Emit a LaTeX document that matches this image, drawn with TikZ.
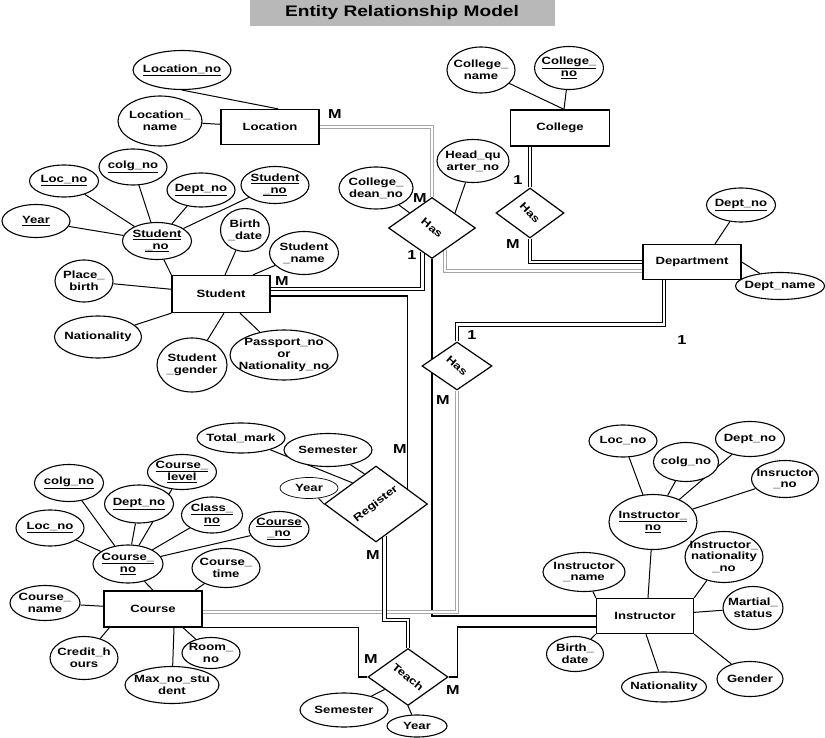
\documentclass[tikz,border=0pt]{standalone}
\usepackage{fontspec}
\setmainfont{Liberation Sans}[FakeStretch=1.25]
\usepackage{graphicx}
\usepackage{tikz}
\usetikzlibrary{positioning}
\usetikzlibrary{calc}
\usetikzlibrary{backgrounds}
\usetikzlibrary{shapes.geometric}

\tikzset{
  every node/.style={font=\fontsize{10.5}{11.7}\selectfont\bfseries},
  sz/.style 2 args={minimum width=#1pt, minimum height=#2pt},
  attr/.style={ellipse, draw, line width=1.1pt, fill=white, inner xsep=-40pt, inner ysep=-40pt, align=center},
  ent/.style={rectangle, draw, line width=1.3pt, fill=white, inner sep=0pt},
  rel/.style={diamond, draw, line width=1.2pt, fill=white, inner xsep=-40pt, inner ysep=-40pt},
  card/.style={font=\fontsize{13}{13}\selectfont\bfseries, inner sep=0pt},
  link/.style={line width=1pt},
  rline/.style={line width=1.2pt},
  dbl/.style={draw=black, line width=0.9pt, double=white, double distance=2.5pt},
  dblg/.style={draw=gray!70, line width=0.9pt, double=white, double distance=2.5pt},
}

\begin{document}
\begin{tikzpicture}[x=1pt, y=-1pt]
    \useasboundingbox (0,0) rectangle (825,738);
    % title
    \node[fill=black!28, sz={305}{26}, font=\fontsize{15.3}{16}\selectfont\bfseries] (ttl) at (402,13) {Entity Relationship Model};
    % entities
    \node[ent, sz={98}{35}] (loc) at (270,127) {Location};
    \node[ent, sz={99}{36}] (col) at (560,128) {College};
    \node[ent, sz={98}{35}] (dept) at (692,262) {Department};
    \node[ent, sz={98}{37}] (stu) at (221,294) {Student};
    \node[ent, sz={98}{36}] (crs) at (153,609) {Course};
    \node[ent, sz={97}{35}] (ins) at (645,616) {Instructor};
    % relationships
    \node[rel, sz={87}{61}] (has1) at (432,228) {\rotatebox{-40}{Has}};
    \node[rel, sz={68}{50}] (has2) at (530,213) {\rotatebox{-47}{Has}};
    \node[rel, sz={70}{48}] (has3) at (457,366) {\rotatebox{-42}{Has}};
    \node[rel, sz={103}{76}] (reg) at (376,504) {\rotatebox{38}{Register}};
    \node[rel, sz={80}{57}] (teach) at (408,677) {\rotatebox{-40}{Teach}};
    % location
    \node[attr, sz={98}{39}] (locno) at (182,70) {\underline{Location\_no}};
    \node[attr, sz={84}{50}] (locname) at (160,121) {Location\_\\name};
    % student
    \node[attr, sz={69}{32}] (locno1) at (64,181) {\underline{Loc\_no}};
    \node[attr, sz={68}{36}] (colgno1) at (133,167) {\underline{colg\_no}};
    \node[attr, sz={68}{34}] (deptno1) at (201,190) {\underline{Dept\_no}};
    \node[attr, sz={68}{37}] (stuno2) at (275,185) {\underline{Student}\\\underline{\_no}};
    \node[attr, sz={68}{33}] (year1) at (36,221) {\underline{Year}};
    \node[attr, sz={69}{37}] (stuno) at (157,241) {\underline{Student}\\\underline{\_no}};
    \node[attr, sz={49}{43}] (birth1) at (245,230) {Birth\\\_date};
    \node[attr, sz={69}{43}] (stuname) at (304,253) {Student\\\_name};
    \node[attr, sz={58}{42}] (place) at (84,281) {Place\_\\birth};
    \node[attr, sz={87}{42}] (nation1) at (98,337) {Nationality};
    \node[attr, sz={70}{54}] (gender1) at (192,365) {Student\\\_gender};
    \node[attr, sz={108}{50}] (passport) at (284,355) {Passport\_no\\or\\Nationality\_no};
    % college and department
    \node[attr, sz={68}{46}] (colname) at (481,70) {College\_\\name};
    \node[attr, sz={69}{43}] (colno) at (569,68) {\underline{College\_}\\\underline{no}};
    \node[attr, sz={72}{43}] (hq) at (473,161) {Head\_qu\\arter\_no};
    \node[attr, sz={74}{42}] (cdean) at (376,188) {College\_\\dean\_no};
    \node[attr, sz={69}{34}] (deptno) at (741,205) {\underline{Dept\_no}};
    \node[attr, sz={89}{27}] (dname) at (780,286) {Dept\_name};
    % course
    \node[attr, sz={69}{37}] (colgno2) at (69,483) {\underline{colg\_no}};
    \node[attr, sz={68}{36}] (locno2) at (50,528) {\underline{Loc\_no}};
    \node[attr, sz={69}{38}] (deptno2) at (139,504) {\underline{Dept\_no}};
    \node[attr, sz={69}{35}] (clevel) at (182,472) {\underline{Course\_}\\\underline{level}};
    \node[attr, sz={61}{36}] (classno) at (212,515) {\underline{Class\_}\\\underline{no}};
    \node[attr, sz={60}{35}] (crsno2) at (279,529) {\underline{Course}\\\underline{\_no}};
    \node[attr, sz={70}{38}] (crsno) at (128,564) {\underline{Course\_}\\\underline{no}};
    \node[attr, sz={68}{39}] (ctime) at (226,568) {Course\_\\time};
    \node[attr, sz={70}{35}] (cname) at (45,603) {Course\_\\name};
    \node[attr, sz={68}{43}] (credit) at (84,658) {Credit\_h\\ours};
    \node[attr, sz={94}{37}] (maxno) at (172,685) {Max\_no\_stu\\dent};
    \node[attr, sz={58}{31}] (room) at (211,653) {Room\_\\no};
    % register and teach
    \node[attr, sz={88}{30}] (total) at (241,438) {Total\_mark};
    \node[attr, sz={88}{33}] (sem1) at (328,450) {Semester};
    \node[attr, sz={58}{21}, line width=0.7pt] (year2) at (309,488) {Year};
    \node[attr, sz={88}{34}] (sem2) at (344,710) {Semester};
    \node[attr, sz={60}{22}] (year3) at (417,726) {Year};
    % instructor
    \node[attr, sz={68}{32}] (locno3) at (623,441) {Loc\_no};
    \node[attr, sz={65}{39}] (colgno3) at (686,462) {colg\_no};
    \node[attr, sz={69}{35}] (deptno3) at (750,439) {Dept\_no};
    \node[attr, sz={67}{37}] (insno2) at (785,479) {Insructor\\\_no};
    \node[attr, sz={88}{55}] (insno) at (653,522) {\underline{Instructor\_}\\\underline{no}};
    \node[attr, sz={78}{51}] (inat) at (724,557) {Instructor\_\\nationality\\\_no};
    \node[attr, sz={82}{39}] (iname) at (584,572) {Instructor\\\_name};
    \node[attr, sz={60}{43}] (mstat) at (753,608) {Martial\_\\status};
    \node[attr, sz={57}{35}] (ibirth) at (575,654) {Birth\_\\date};
    \node[attr, sz={85}{30}] (ination) at (664,687) {Nationality};
    \node[attr, sz={66}{35}] (igender) at (750,679) {Gender};
    % cardinalities
    \node[card] (m1) at (335,114) {M};
    \node[card] (m2) at (420,198) {M};
    \node[card] (o1) at (412,255) {1};
    \node[card] (m3) at (282,281) {M};
    \node[card] (o2) at (518,180) {1};
    \node[card] (m4) at (513,244) {M};
    \node[card] (o3) at (472,335) {1};
    \node[card] (o4) at (682,340) {1};
    \node[card] (m5) at (443,400) {M};
    \node[card] (m6) at (400,449) {M};
    \node[card] (m7) at (373,555) {M};
    \node[card] (m8) at (371,659) {M};
    \node[card] (m9) at (453,690) {M};
    \begin{scope}[on background layer]
      % attribute links
      \draw[link] (locno.south) -- ([xshift=8pt]loc.north);
      \draw[link] (locname) -- (loc);
      \foreach \a in {locno1, colgno1, deptno1, stuno2, year1} \draw[link] (\a) -- (stuno);
      \draw[link] (stuno.-70) -- (stu.north west);
      \draw[link] (birth1) -- ([xshift=4pt]stu.north);
      \draw[link] (stuname) -- ([xshift=32pt]stu.north);
      \draw[link] (place) -- (stu);
      \draw[link] (nation1) -- (stu.south west);
      \draw[link] (gender1) -- ([xshift=3pt]stu.south);
      \draw[link] (passport) -- ([xshift=19pt]stu.south);
      \draw[link] (colname) -- ([xshift=4pt]col.north);
      \draw[link] (colno) -- ([xshift=4pt]col.north);
      \draw[link] (hq) -- (has1.33);
      \draw[link] (cdean) -- (has1.146);
      \draw[link] (deptno) -- ([xshift=23pt]dept.north);
      \draw[link] (dname) -- (dept.east);
      \foreach \a in {colgno2, locno2, deptno2, clevel, classno, crsno2} \draw[link] (\a) -- (crsno);
      \draw[link] (crsno) -- (crs.north);
      \draw[link] (ctime) -- ([xshift=42pt]crs.north);
      \draw[link] (cname) -- (crs);
      \draw[link] (credit) -- ([xshift=6pt]crs.south west);
      \draw[link] (maxno) -- ([xshift=21pt]crs.south);
      \draw[link] (room) -- ([xshift=30pt]crs.south);
      \draw[link] (total) -- (reg.138);
      \draw[link] (sem1) -- (reg.111);
      \draw[link] (year2) -- (reg.west);
      \draw[link] (sem2) -- (teach.208);
      \draw[link] (year3) -- (teach.south);
      \foreach \a in {locno3, colgno3, deptno3, insno2} \draw[link] (\a) -- (insno);
      \draw[link] (insno) -- ([xshift=3pt]ins.north);
      \draw[link] (iname) -- (ins.north west);
      \draw[link] (inat) -- (ins.north east);
      \draw[link] (mstat) -- (ins);
      \draw[link] (ibirth) -- (ins.south west);
      \draw[link] (ination) -- ([xshift=1pt]ins.south);
      \draw[link] (igender) -- (ins.south east);
      % relationship links
      \draw[dblg] (loc.east) -| (has1.north);
      \draw[dbl] ([yshift=5pt]stu.east) -| (has1.-111);
      \draw[dblg] (has1.-59) |- ([yshift=-9pt]dept.west);
      \draw[rline] (has1.south) |- (ins.west);
      \draw[dbl] (col.south -| has2.north) -- (has2.north);
      \draw[dbl] (has2.south) |- (dept.west);
      \draw[dbl] ([xshift=-28pt]dept.south) |- ([yshift=17pt]has3.north) -- (has3.north);
      \draw[dblg] (has3.south) |- ([yshift=-3pt]crs.east);
      \draw[rline] ([yshift=-2pt]stu.east) -| (reg.26);
      \draw[dbl] (reg.-75) |- ([yshift=28pt]teach.north) -- (teach.north);
      \draw[rline] (crs.south east) -| ([xshift=-9pt]teach.west) -- (teach.west);
      \draw[rline] (teach.east) -- ++(9,0) |- ([yshift=-11pt]ins.west);
    \end{scope}
\end{tikzpicture}
\end{document}
